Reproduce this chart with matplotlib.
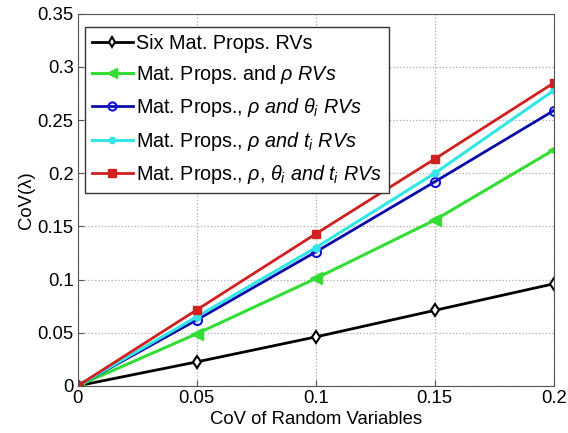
import numpy as np
from matplotlib import pyplot as plt

plt.rcParams['font.family'] = ['Liberation Sans', 'DejaVu Sans']
plt.rcParams['mathtext.fontset'] = 'custom'
plt.rcParams['mathtext.rm'] = 'Liberation Sans'
plt.rcParams['mathtext.it'] = 'Liberation Sans:italic'

# data
cov_rv = [0, 0.05, 0.1, 0.15, 0.2]
six_props = [0, 0.0225, 0.046, 0.071, 0.096]
props_rho = [0, 0.049, 0.101, 0.156, 0.222]
props_rho_theta = [0, 0.062, 0.126, 0.192, 0.259]
props_rho_t = [0, 0.065, 0.130, 0.200, 0.278]
props_all = [0, 0.0715, 0.143, 0.2135, 0.285]

labels = ['Six Mat. Props. RVs',
          r'Mat. Props. and $\rho\ RVs$',
          r'Mat. Props., $\rho\ and\ \theta_i\ RVs$',
          r'Mat. Props., $\rho\ and\ t_i\ RVs$',
          r'Mat. Props., $\rho$, $\theta_i\ and\ t_i\ RVs$']

fig = plt.figure(figsize=(5.68, 4.33), dpi=100)
ax = fig.add_axes([0.137, 0.109, 0.838, 0.859])

ax.plot(cov_rv, six_props, color='black', lw=2, marker='d', ms=6,
        mfc='white', mec='black', mew=1.5, label=labels[0])
ax.plot(cov_rv, props_rho, color='#33dd33', lw=2.2, marker='<', ms=8,
        label=labels[1])
ax.plot(cov_rv, props_rho_theta, color='#0a0aa8', lw=2, marker='o', ms=6.5,
        mfc='none', mec='#1010e0', mew=1.5, label=labels[2])
ax.plot(cov_rv, props_rho_t, color='#33e6e6', lw=2.2, marker='o', ms=5,
        label=labels[3])
ax.plot(cov_rv, props_all, color='#d02020', lw=2, marker='s', ms=6,
        label=labels[4])

ax.set_xlim(0, 0.2)
ax.set_ylim(0, 0.35)
ax.set_xticks([0, 0.05, 0.1, 0.15, 0.2])
ax.set_xticklabels(['0', '0.05', '0.1', '0.15', '0.2'])
ax.set_yticks([0, 0.05, 0.1, 0.15, 0.2, 0.25, 0.3, 0.35])
ax.set_yticklabels(['0', '0.05', '0.1', '0.15', '0.2', '0.25', '0.3', '0.35'])
ax.tick_params(direction='in', labelsize=13.3, length=4, color='#555555',
               pad=3)
ax.grid(True, ls=':', color='#aaaaaa', lw=0.9)
for s in ax.spines.values():
    s.set_color('#555555')

ax.set_xlabel('CoV of Random Variables', fontsize=13.3, labelpad=3)
ax.set_ylabel('CoV(λ)', fontsize=13.3, labelpad=2)

leg = ax.legend(loc='upper left', bbox_to_anchor=(0.0147, 0.965),
                fontsize=14.2, fancybox=False, edgecolor='#333333',
                framealpha=1, handlelength=2.1, handletextpad=0.15,
                borderpad=0.35, labelspacing=0.52, borderaxespad=0,
                markerscale=0.9)
leg.get_frame().set_linewidth(1)

fig.savefig('out.png', dpi=100)
